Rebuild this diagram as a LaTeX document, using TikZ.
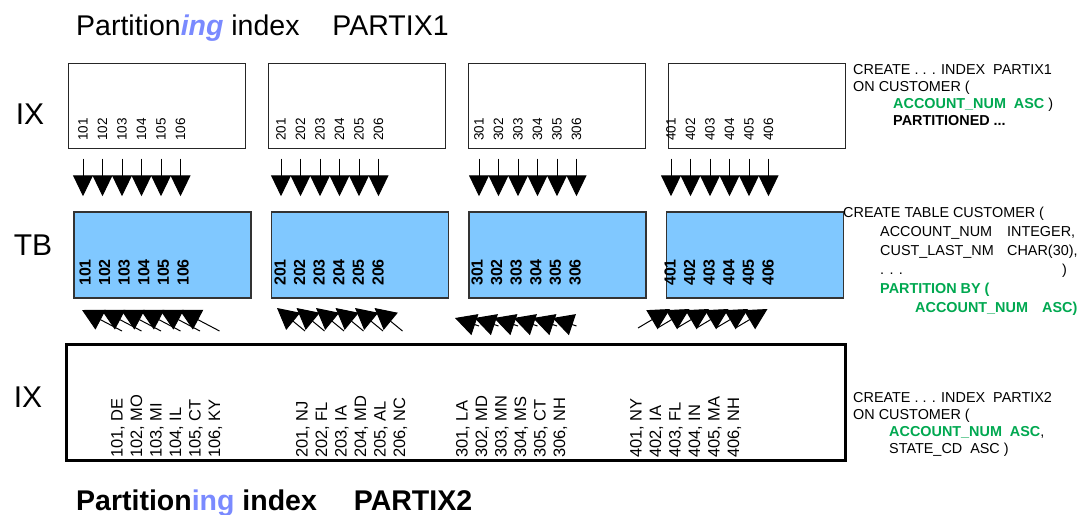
\documentclass[tikz,border=0pt]{standalone}
\usepackage{fontspec}
\setmainfont{Liberation Sans}
\usetikzlibrary{arrows.meta, positioning}
\definecolor{tbblue}{RGB}{128,200,255}
\definecolor{sqlgreen}{RGB}{0,168,80}
\definecolor{ingblue}{RGB}{122,138,255}
\tikzset{
  ixbox/.style={rectangle, draw=black!85, line width=1pt, minimum width=177pt, minimum height=85pt, inner sep=0pt},
  tbbox/.style={rectangle, draw=black!80, line width=1.5pt, fill=tbblue, minimum width=177pt, minimum height=86pt, inner sep=0pt},
  allbox/.style={rectangle, draw=black, line width=3pt, minimum width=779pt, minimum height=116pt, inner sep=0pt},
  rowlabel/.style={inner sep=0pt, font=\fontsize{30}{36}\selectfont},
  ixnum/.style={rotate=90, anchor=west, inner sep=0pt, font=\fontsize{13.5}{16}\selectfont},
  tbnum/.style={rotate=90, anchor=west, inner sep=0pt, font=\fontsize{16}{19}\selectfont\bfseries},
  keynum/.style={rotate=90, anchor=west, inner sep=0pt, font=\fontsize{16.5}{19}\selectfont},
  sqltext/.style={anchor=north west, align=left, inner sep=0pt, font=\fontsize{14.4}{17}\selectfont},
  headline/.style={anchor=base west, inner sep=0pt, font=\fontsize{28.5}{34}\selectfont},
  downarrow/.style={line width=1pt, -{Triangle[length=21pt, width=20pt]}},
  uparrow/.style={line width=1pt, -{Triangle[length=21pt, width=22pt]}}
}

\begin{document}
\begin{tikzpicture}[x=1pt, y=-1pt]
  \useasboundingbox (0,0) rectangle (1083,514);

  \node[headline] (title1) at (76,35) {Partition{\color{ingblue}\bfseries\itshape ing} index\hspace{33pt}PARTIX1};

  % index partitions, table partitions, second index
  \node[ixbox] (ix1) at (156.5,105.5) {};
  \node[ixbox, right=22pt of ix1] (ix2) {};
  \node[ixbox, right=22pt of ix2] (ix3) {};
  \node[ixbox, right=22pt of ix3] (ix4) {};

  \node[tbbox] (tbx1) at (162.5,255) {};
  \node[tbbox, right=19pt of tbx1] (tbx2) {};
  \node[tbbox, right=19pt of tbx2] (tbx3) {};
  \node[tbbox, right=19pt of tbx3] (tbx4) {};

  \node[allbox] (ixall) at (455.5,402) {};

  \node[rowlabel] (lbl1) at (30,114) {IX};
  \node[rowlabel] (lbl2) at (33,245) {TB};
  \node[rowlabel] (lbl3) at (28,397) {IX};

  \foreach \g/\xa/\xb in {1/83/85, 2/281/280, 3/479/477, 4/671/670} {
    \foreach \i in {1,...,6} {
      \node[ixnum] (ixa\g0\i) at ({\xa+19.5*(\i-1)},141) {\g0\i};
      \node[tbnum] (tb\g0\i) at ({\xb+19.6*(\i-1)},286) {\g0\i};
      \draw[downarrow] ([yshift=-10pt]ixa\g0\i |- ix\g.south) -- ([yshift=15pt]ixa\g0\i |- tbx\g.north);
    }
  }

  \foreach \g/\xs/\states in {1/118/{DE,MO,MI,IL,CT,KY}, 2/303/{NJ,FL,IA,MD,AL,NC},
                              3/463/{LA,MD,MN,MS,CT,NH}, 4/637/{NY,IA,FL,IN,MA,NH}} {
    \foreach \st [count=\i] in \states {
      \node[keynum] (key\g0\i) at ({\xs+19.5*(\i-1)},458) {\g0\i, \st};
    }
  }

  % arrows from the second index up to the rows
  \foreach \g/\xt/\yt/\dx/\dy in {1/82/310/40/21, 2/277/308/28/23, 3/455/318/24/8, 4/670/309/-32/19} {
    \foreach \i in {0,...,5} {
      \coordinate (tip\g\i) at ({\xt+19.5*\i},\yt);
      \coordinate (tail\g\i) at ({\xt+19.5*\i+\dx},{\yt+\dy});
      \draw[uparrow] (tail\g\i) -- (tip\g\i);
    }
  }

  \node[sqltext] (sql1) at (853,64) {CREATE . . . INDEX\ \ PARTIX1\\
    ON CUSTOMER (\\
    \hspace*{40pt}{\color{sqlgreen}\bfseries ACCOUNT\_NUM\ \ ASC} )\\
    \hspace*{40pt}\textbf{PARTITIONED ...}};
  \node[sqltext, font=\fontsize{14.4}{19}\selectfont] (sql2) at (843,207) {CREATE TABLE CUSTOMER (\\
    \hspace*{37pt}\makebox[127pt][l]{ACCOUNT\_NUM}INTEGER,\\
    \hspace*{37pt}\makebox[127pt][l]{CUST\_LAST\_NM}CHAR(30),\\
    \hspace*{37pt}\makebox[182pt][l]{. . .})\\
    \hspace*{37pt}{\color{sqlgreen}\bfseries PARTITION BY (}\\
    \hspace*{72pt}{\color{sqlgreen}\bfseries \makebox[127pt][l]{ACCOUNT\_NUM}ASC)}};
  \node[sqltext] (sql3) at (853,392) {CREATE . . . INDEX\ \ PARTIX2\\
    ON CUSTOMER (\\
    \hspace*{36pt}{\color{sqlgreen}\bfseries ACCOUNT\_NUM\ \ ASC},\\
    \hspace*{36pt}STATE\_CD\ \ ASC )};

  \node[headline, font=\fontsize{28.5}{34}\selectfont\bfseries] (title2) at (76,510) {Partition{\color{ingblue}ing} index\hspace{37pt}PARTIX2};
\end{tikzpicture}
\end{document}
